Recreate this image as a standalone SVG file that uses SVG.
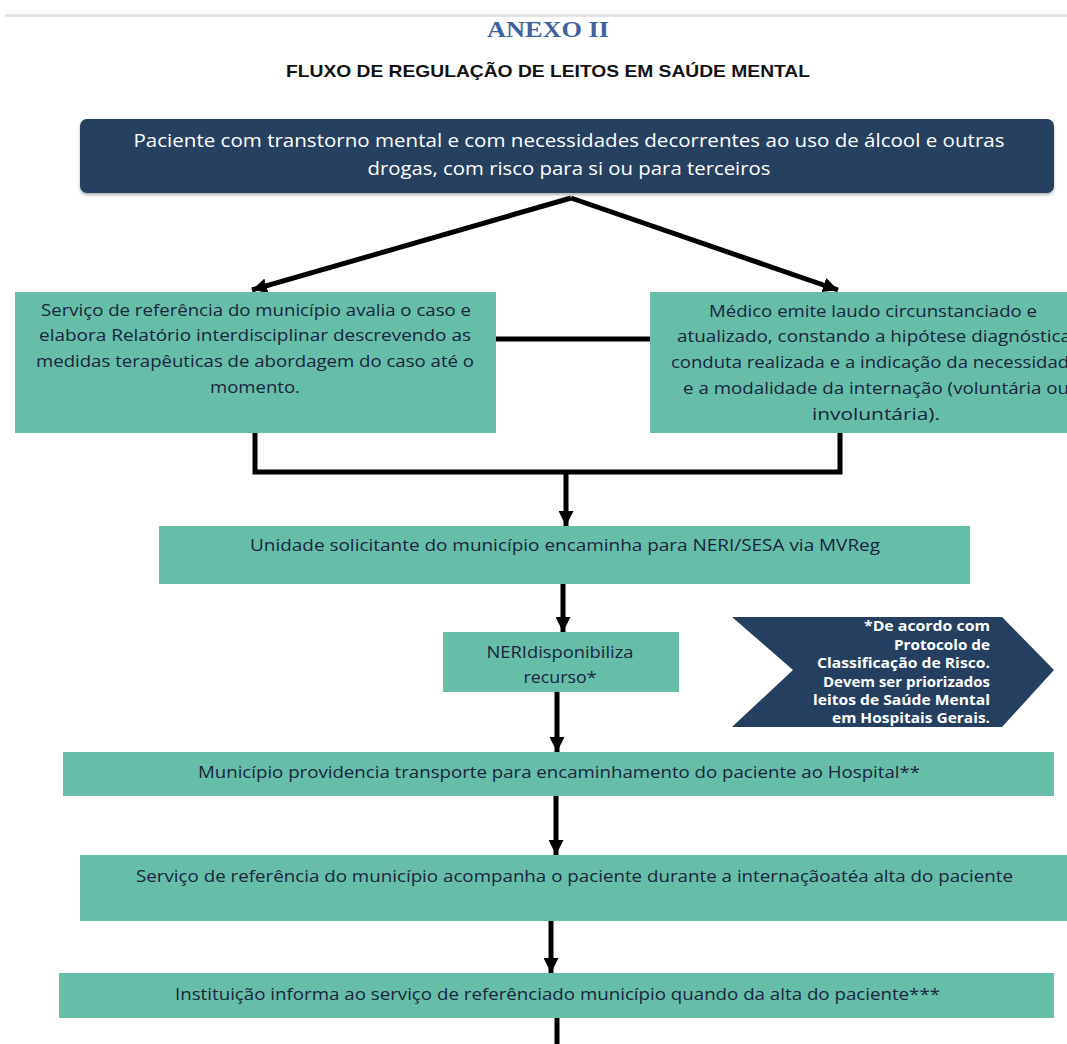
<svg xmlns="http://www.w3.org/2000/svg" width="1067" height="1044" viewBox="0 0 1067 1044">
<style>
.green{fill:#66bea8}
.navy{fill:#253f60}
.t{font-family:"Open Sans","Liberation Sans",sans-serif;fill:#1a2440;font-size:16px;text-anchor:middle}
.ts{font-family:"Open Sans","Liberation Sans",sans-serif;fill:#1a2440;font-size:16px;text-anchor:start}
.tw{font-family:"Open Sans","Liberation Sans",sans-serif;fill:#ffffff;font-size:18px;text-anchor:middle}
.tn{font-family:"Open Sans","Liberation Sans",sans-serif;fill:#ffffff;font-size:14px;font-weight:bold;text-anchor:end}
.ln{fill:none;stroke:#000;stroke-width:5}
</style>
<defs>
<marker id="ah" viewBox="0 0 10 10" refX="10" refY="5" markerWidth="15" markerHeight="15" markerUnits="userSpaceOnUse" orient="auto">
<path d="M0,0 L10,5 L0,10 z" fill="#000"/>
</marker>
<filter id="sh" x="-5%" y="-20%" width="110%" height="140%">
<feDropShadow dx="0" dy="2" stdDeviation="1.5" flood-color="#000" flood-opacity="0.3"/>
</filter>
</defs>
<rect x="5" y="14" width="1062" height="3" fill="#e4e4e4"/>
<text x="548" y="37" font-family="Liberation Serif,serif" font-weight="bold" font-size="24" fill="#3f63a0" text-anchor="middle" textLength="122" lengthAdjust="spacingAndGlyphs">ANEXO II</text>
<text x="548" y="77" font-family="Liberation Sans,sans-serif" font-weight="bold" font-size="17" fill="#111" text-anchor="middle" textLength="524" lengthAdjust="spacingAndGlyphs">FLUXO DE REGULAÇÃO DE LEITOS EM SAÚDE MENTAL</text>

<g id="connectors">
<path class="ln" d="M571,198 L252,290" marker-end="url(#ah)"/>
<path class="ln" d="M571,198 L838,290" marker-end="url(#ah)"/>
<path class="ln" d="M495,339 L650,339"/>
<path class="ln" d="M255,433 L255,472 L840,472 L840,433" stroke-width="6"/>
<path class="ln" d="M566,472 L566,526" marker-end="url(#ah)"/>
<path class="ln" d="M563,584 L563,632" marker-end="url(#ah)"/>
<path class="ln" d="M557,692 L557,752" marker-end="url(#ah)"/>
<path class="ln" d="M556,796 L556,855" marker-end="url(#ah)"/>
<path class="ln" d="M551,921 L551,973" marker-end="url(#ah)"/>
<path class="ln" d="M557,1018 L557,1044"/>
</g>

<g id="n-paciente">
<rect x="80" y="119" width="974" height="74" rx="7" class="navy" filter="url(#sh)"/>
<text class="tw" x="569" y="147" textLength="871" lengthAdjust="spacingAndGlyphs">Paciente com transtorno mental e com necessidades decorrentes ao uso de álcool e outras</text>
<text class="tw" x="569" y="175" textLength="403" lengthAdjust="spacingAndGlyphs">drogas, com risco para si ou para terceiros</text>
</g>

<g id="n-servico-avalia">
<rect x="15" y="292" width="481" height="141" class="green"/>
<text class="t" x="256" y="316" textLength="430" lengthAdjust="spacingAndGlyphs">Serviço de referência do município avalia o caso e</text>
<text class="t" x="255" y="341" textLength="432" lengthAdjust="spacingAndGlyphs">elabora Relatório interdisciplinar descrevendo as</text>
<text class="t" x="255" y="367" textLength="438" lengthAdjust="spacingAndGlyphs">medidas terapêuticas de abordagem do caso até o</text>
<text class="t" x="255" y="393" textLength="90" lengthAdjust="spacingAndGlyphs">momento.</text>
</g>

<g id="n-medico">
<rect x="650" y="292" width="430" height="141" class="green"/>
<text class="t" x="873" y="317" textLength="328" lengthAdjust="spacingAndGlyphs">Médico emite laudo circunstanciado e</text>
<text class="ts" x="677" y="342" textLength="394" lengthAdjust="spacingAndGlyphs">atualizado, constando a hipótese diagnóstica</text>
<text class="ts" x="671" y="368" textLength="398" lengthAdjust="spacingAndGlyphs">conduta realizada e a indicação da necessidad</text>
<text class="ts" x="683" y="394" textLength="386" lengthAdjust="spacingAndGlyphs">e a modalidade da internação (voluntária ou</text>
<text class="t" x="876" y="420" textLength="128" lengthAdjust="spacingAndGlyphs">involuntária).</text>
</g>

<g id="n-unidade">
<rect x="159" y="526" width="811" height="58" class="green"/>
<text class="t" x="565" y="551" textLength="630" lengthAdjust="spacingAndGlyphs">Unidade solicitante do município encaminha para NERI/SESA via MVReg</text>
</g>

<g id="n-neri">
<rect x="443" y="632" width="236" height="60" class="green"/>
<text class="t" x="560" y="658" textLength="147" lengthAdjust="spacingAndGlyphs">NERIdisponibiliza</text>
<text class="t" x="560" y="683" textLength="73" lengthAdjust="spacingAndGlyphs">recurso*</text>
</g>

<g id="n-nota">
<polygon points="732,617 1002,617 1054,670 1002,727 732,727 793,670" class="navy"/>
<text class="tn" x="990" y="631" textLength="126" lengthAdjust="spacingAndGlyphs">*De acordo com</text>
<text class="tn" x="990" y="650" textLength="96" lengthAdjust="spacingAndGlyphs">Protocolo de</text>
<text class="tn" x="990" y="668" textLength="173" lengthAdjust="spacingAndGlyphs">Classificação de Risco.</text>
<text class="tn" x="990" y="687" textLength="167" lengthAdjust="spacingAndGlyphs">Devem ser priorizados</text>
<text class="tn" x="990" y="705" textLength="177" lengthAdjust="spacingAndGlyphs">leitos de Saúde Mental</text>
<text class="tn" x="990" y="723" textLength="158" lengthAdjust="spacingAndGlyphs">em Hospitais Gerais.</text>
</g>

<g id="n-municipio">
<rect x="63" y="752" width="991" height="44" class="green"/>
<text class="t" x="559" y="778" textLength="722" lengthAdjust="spacingAndGlyphs">Município providencia transporte para encaminhamento do paciente ao Hospital**</text>
</g>

<g id="n-acompanha">
<rect x="80" y="855" width="990" height="66" class="green"/>
<text class="t" x="574.5" y="882" textLength="877" lengthAdjust="spacingAndGlyphs">Serviço de referência do município acompanha o paciente durante a internaçãoatéa alta do paciente</text>
</g>

<g id="n-instituicao">
<rect x="59" y="973" width="995" height="45" class="green"/>
<text class="t" x="557.5" y="1000" textLength="765" lengthAdjust="spacingAndGlyphs">Instituição informa ao serviço de referênciado município quando da alta do paciente***</text>
</g>
</svg>
